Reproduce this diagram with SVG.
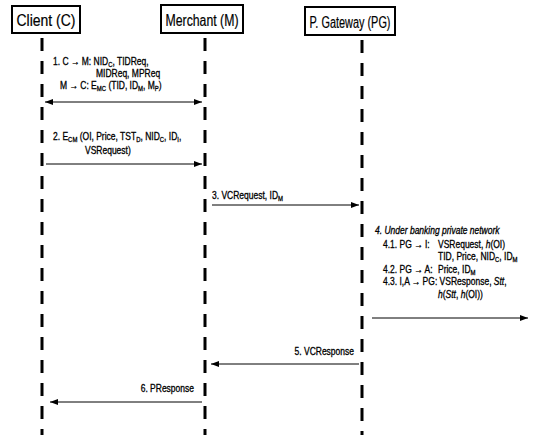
<svg xmlns="http://www.w3.org/2000/svg" width="533" height="435" viewBox="0 0 533 435">
<defs>
<style>
.box{fill:#fff;stroke:#000;stroke-width:2}
.hd{font-family:"Liberation Sans",Arial,sans-serif;font-size:16px;fill:#000;stroke:#000;stroke-width:0.2;text-anchor:middle}
.life{stroke:#000;stroke-width:3;stroke-dasharray:13 10;fill:none}
.msg{stroke:#000;stroke-width:1;fill:none}
.t{font-family:"Liberation Sans",Arial,sans-serif;font-size:10px;fill:#000;stroke:#000;stroke-width:0.3}
.e{text-anchor:end}
.s{font-size:7px}
.i{font-style:italic}
</style>
<marker id="ah" viewBox="0 0 8 6" refX="8" refY="3" markerWidth="8" markerHeight="6" markerUnits="userSpaceOnUse" orient="auto-start-reverse">
<path d="M0,0 L8,3 L0,6 Z" fill="#000"/>
</marker>
</defs>
<rect width="533" height="435" fill="#fff"/>
<g id="client">
<rect class="box" x="12" y="6" width="68" height="27"/>
<text class="hd" x="46" y="26" textLength="59" lengthAdjust="spacingAndGlyphs">Client (C)</text>
</g>
<g id="merchant">
<rect class="box" x="161" y="5" width="82" height="28"/>
<text class="hd" x="202" y="26" textLength="73" lengthAdjust="spacingAndGlyphs">Merchant (M)</text>
</g>
<g id="gateway">
<rect class="box" x="305" y="7" width="90" height="28"/>
<text class="hd" x="350" y="28" textLength="81" lengthAdjust="spacingAndGlyphs">P. Gateway (PG)</text>
</g>
<g id="lifelines">
<line class="life" x1="42" y1="38" x2="42" y2="435"/>
<line class="life" x1="205" y1="38" x2="205" y2="435"/>
<line class="life" x1="362" y1="40" x2="362" y2="435"/>
</g>
<g id="connectors">
<line class="msg" x1="45" y1="102" x2="202" y2="102" marker-start="url(#ah)" marker-end="url(#ah)"/>
<line class="msg" x1="46" y1="164" x2="202" y2="164" marker-end="url(#ah)"/>
<line class="msg" x1="212" y1="205" x2="359" y2="205" marker-end="url(#ah)"/>
<line class="msg" x1="372" y1="318" x2="528" y2="318" marker-end="url(#ah)"/>
<line class="msg" x1="359" y1="364" x2="211" y2="364" marker-end="url(#ah)"/>
<line class="msg" x1="202" y1="402" x2="50" y2="402" marker-end="url(#ah)"/>
</g>
<g id="labels">
<g transform="translate(53,65) scale(0.85,1)"><text class="t" x="0" y="0">1. C → M: NID<tspan class="s" dy="2">C</tspan><tspan dy="-2">, TIDReq,</tspan></text></g>
<g transform="translate(96,77) scale(0.85,1)"><text class="t" x="0" y="0">MIDReq, MPReq</text></g>
<g transform="translate(60,89) scale(0.85,1)"><text class="t" x="0" y="0">M → C: E<tspan class="s" dy="2">MC</tspan><tspan dy="-2"> (TID, ID</tspan><tspan class="s" dy="2">M</tspan><tspan dy="-2">, M</tspan><tspan class="s" dy="2">P</tspan><tspan dy="-2">)</tspan></text></g>
<g transform="translate(53,140) scale(0.85,1)"><text class="t" x="0" y="0">2. E<tspan class="s" dy="2">CM</tspan><tspan dy="-2"> (OI, Price, TST</tspan><tspan class="s" dy="2">D</tspan><tspan dy="-2">, NID</tspan><tspan class="s" dy="2">C</tspan><tspan dy="-2">, ID</tspan><tspan class="s" dy="2">I</tspan><tspan dy="-2">,</tspan></text></g>
<g transform="translate(85,154) scale(0.85,1)"><text class="t" x="0" y="0">VSRequest)</text></g>
<g transform="translate(212,199) scale(0.85,1)"><text class="t" x="0" y="0">3. VCRequest, ID<tspan class="s" dy="2">M</tspan></text></g>
<g transform="translate(375,234) scale(0.85,1)"><text class="t i" x="0" y="0">4. Under banking private network</text></g>
<g transform="translate(383,248) scale(0.85,1)"><text class="t" x="0" y="0">4.1. PG → I:</text></g>
<g transform="translate(438,248) scale(0.85,1)"><text class="t" x="0" y="0">VSRequest, <tspan class="i">h</tspan>(OI)</text></g>
<g transform="translate(438,260) scale(0.85,1)"><text class="t" x="0" y="0">TID, Price, NID<tspan class="s" dy="2">C</tspan><tspan dy="-2">, ID</tspan><tspan class="s" dy="2">M</tspan></text></g>
<g transform="translate(383,273) scale(0.85,1)"><text class="t" x="0" y="0">4.2. PG → A:</text></g>
<g transform="translate(438,273) scale(0.85,1)"><text class="t" x="0" y="0">Price, ID<tspan class="s" dy="2">M</tspan></text></g>
<g transform="translate(383,285) scale(0.85,1)"><text class="t" x="0" y="0">4.3. I,A → PG: VSResponse, <tspan class="i">Stt</tspan>,</text></g>
<g transform="translate(438,298) scale(0.85,1)"><text class="t" x="0" y="0"><tspan class="i">h</tspan>(<tspan class="i">Stt</tspan>, <tspan class="i">h</tspan>(OI))</text></g>
<g transform="translate(354,355) scale(0.85,1)"><text class="t e" x="0" y="0">5. VCResponse</text></g>
<g transform="translate(194,392) scale(0.85,1)"><text class="t e" x="0" y="0">6. PResponse</text></g>
</g>
</svg>
